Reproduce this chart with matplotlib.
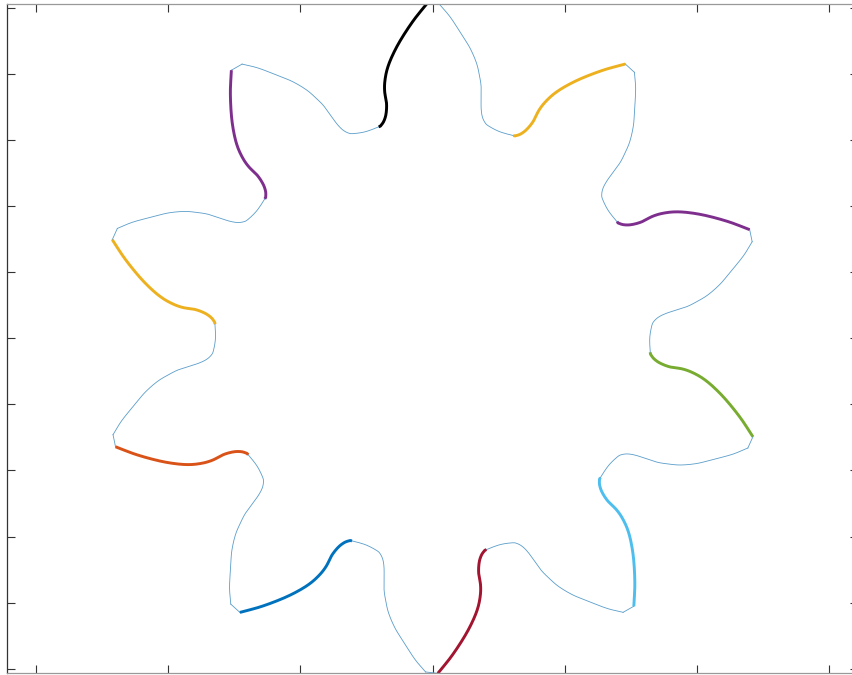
import numpy as np
import matplotlib
matplotlib.use("Agg")
import matplotlib.pyplot as plt

# Tooth tip directions (degrees) and colour of each tooth's leading flank
tooth_angles = [-162, -126, -90, -54, -18, 18, 54, 90, 126, 162]
flank_colors = ["#D95319", "#0072BD", "#A2142F", "#4DBEEE", "#77AC30",
                "#7E2F8E", "#EDB120", "#000000", "#7E2F8E", "#EDB120"]

# Single tooth profile in polar form: offset from the tooth axis (deg) and radius
root_phi = [-18.0]
root_r = [3.285]
trail_phi = [-14.8, -13.6, -12.6, -11.9, -11.4, -10.9, -10.2, -9.1, -7.4, -5.6, -3.2, -1.2]
trail_r = [3.32, 3.36, 3.44, 3.56, 3.72, 3.88, 4.02, 4.21, 4.42, 4.60, 4.86, 5.05]
lead_phi = [0.9, 3.4, 6.0, 8.0, 9.5, 10.5, 11.0, 11.1, 11.7, 12.6, 13.6, 14.3]
lead_r = [5.07, 4.82, 4.55, 4.33, 4.14, 3.96, 3.80, 3.62, 3.47, 3.37, 3.315, 3.30]

x_ticks = [-6, -4, -2, 0, 2, 4, 6]
y_ticks = [-5, -4, -3, -2, -1, 0, 1, 2, 3, 4, 5]


def to_xy(angle, phi, r):
    th = np.deg2rad(angle + np.asarray(phi))
    r = np.asarray(r)
    return np.column_stack([r * np.cos(th), r * np.sin(th)])


def catmull_rom(P, before, after, n=20):
    """Open Catmull-Rom curve through P; before/after set the end tangents."""
    Q = np.vstack([before, P, after])
    t = np.linspace(0, 1, n, endpoint=False)[:, None]
    segs = []
    for i in range(1, len(Q) - 2):
        p0, p1, p2, p3 = Q[i - 1], Q[i], Q[i + 1], Q[i + 2]
        segs.append(0.5 * ((2 * p1) + (-p0 + p2) * t
                           + (2 * p0 - 5 * p1 + 4 * p2 - p3) * t ** 2
                           + (-p0 + 3 * p1 - 3 * p2 + p3) * t ** 3))
    segs.append(Q[-2][None, :])
    return np.vstack(segs)


n_teeth = len(tooth_angles)
thin_parts = []
lead_parts = []
for k, a in enumerate(tooth_angles):
    prev_a = tooth_angles[k - 1]
    lead_prev = to_xy(prev_a, lead_phi, lead_r)
    root = to_xy(a, root_phi, root_r)
    trail = to_xy(a, trail_phi, trail_r)
    lead = to_xy(a, lead_phi, lead_r)

    # root arc and trailing flank, starting where the previous leading flank ends
    pts = np.vstack([lead_prev[-1:], root, trail])
    after = 2 * trail[-1] - trail[-2]
    thin_parts.append(catmull_rom(pts, lead_prev[-2], after))
    # straight land across the tooth tip
    thin_parts.append(np.vstack([trail[-1], lead[0]]))

    # leading flank, from tip down into the root
    before = 2 * lead[0] - lead[1]
    next_root = to_xy(tooth_angles[(k + 1) % n_teeth], root_phi, root_r)[0]
    lead_parts.append(catmull_rom(lead, before, next_root))

fig = plt.figure(figsize=(8.52, 6.75), dpi=100)
ax = fig.add_axes([7.3 / 852, 2.3 / 675, 850.6 / 852, 668.7 / 675])

thin_color = "#5a9dca"
for part in thin_parts:
    ax.plot(part[:, 0], part[:, 1], color=thin_color, lw=0.6)
for part in lead_parts:
    ax.plot(part[:, 0], part[:, 1], color=thin_color, lw=0.6)
for part, c in zip(lead_parts, flank_colors):
    ax.plot(part[:, 0], part[:, 1], color=c, lw=2.1, solid_capstyle="butt")

ax.set_xlim(-6.434, 6.434)
ax.set_ylim(-5.06, 5.056)
ax.set_xticks(x_ticks)
ax.set_yticks(y_ticks)
ax.tick_params(direction="in", length=5.8, width=0.8, colors="#333333",
               top=True, right=True, labelbottom=False, labelleft=False)
ax.spines["left"].set_color("#333333")
for side in ["top", "bottom", "right"]:
    ax.spines[side].set_color("#999999")
for sp in ax.spines.values():
    sp.set_linewidth(0.9)

fig.savefig("out.png", dpi=100)
